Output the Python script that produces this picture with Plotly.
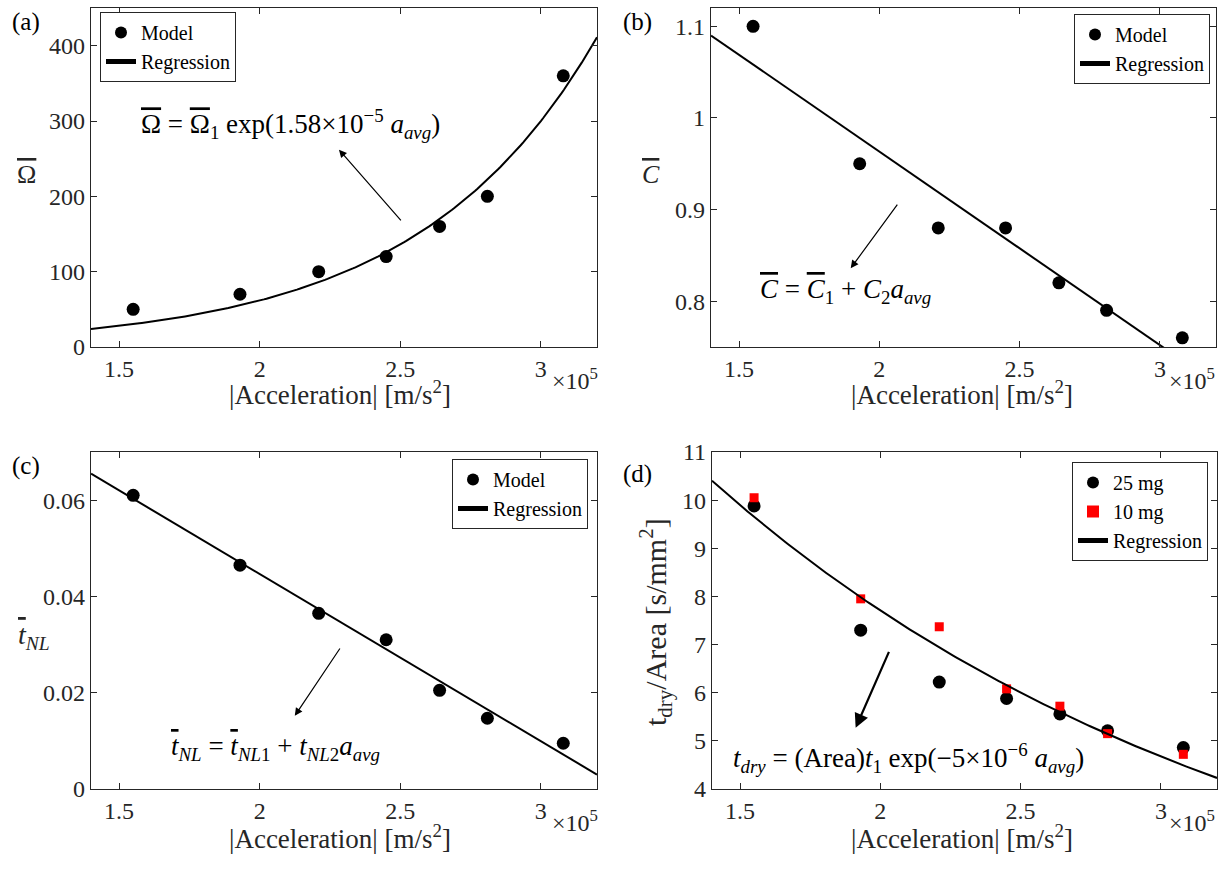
import numpy as np
import plotly.graph_objects as go

# ---------------- data (acceleration in units of 1e5 m/s^2) ----------------
accel = [1.55, 1.93, 2.21, 2.45, 2.64, 2.81, 3.08]

omega_model = [50, 70, 100, 120, 160, 200, 360]
c_model = [1.10, 0.95, 0.88, 0.88, 0.82, 0.79, 0.76]
tnl_model = [0.061, 0.0465, 0.0365, 0.031, 0.0205, 0.0147, 0.0095]
tdry_25mg = [9.88, 7.30, 6.22, 5.88, 5.56, 5.21, 4.86]
tdry_10mg = [10.05, 7.95, 7.37, 6.08, 5.72, 5.15, 4.72]

# regression coefficients
omega1, omega_k = 2.62, 1.58      # Omega = omega1*exp(1.58e-5 a)
c1, c2 = 1.3857, -0.2112          # C = c1 + c2*a
tnl1, tnl2 = 0.1141, -0.03472     # tNL = tnl1 + tnl2*a
t1, tk = 20.95, -0.5              # t = t1*exp(-5e-6 a)

xticks = [1.5, 2, 2.5, 3]
xticktext = ["1.5", "2", "2.5", "3"]
x_range = [1.4, 3.2]

ya_ticks = [0, 100, 200, 300, 400]
yb_ticks = [0.8, 0.9, 1.0, 1.1]
yb_text = ["0.8", "0.9", "1", "1.1"]
yc_ticks = [0, 0.02, 0.04, 0.06]
yc_text = ["0", "0.02", "0.04", "0.06"]
yd_ticks = [4, 5, 6, 7, 8, 9, 10, 11]

# ---------------- figure ----------------
W, H = 1222, 871
FONT = "Liberation Serif, Times New Roman, DejaVu Serif, serif"
AX = "#262626"

xs = np.linspace(x_range[0], x_range[1], 200)

fig = go.Figure()

def px_x(p):
    return p / W

def px_y(p):
    return 1 - p / H

dom_x = {1: [px_x(91), px_x(597)], 2: [px_x(711), px_x(1216)],
         3: [px_x(91), px_x(597)], 4: [px_x(712), px_x(1217)]}
dom_y = {1: [px_y(347), px_y(8)], 2: [px_y(347), px_y(8)],
         3: [px_y(789), px_y(452)], 4: [px_y(789), px_y(452)]}

def ax_names(i):
    return ("x" if i == 1 else f"x{i}", "y" if i == 1 else f"y{i}")

def leg_name(i):
    return "legend" if i == 1 else f"legend{i}"

def add_model(i, y, name="Model", color="black", symbol="circle", size=13):
    xa, ya = ax_names(i)
    fig.add_trace(go.Scatter(x=accel, y=y, mode="markers", name=name,
                             marker=dict(color=color, size=size, symbol=symbol),
                             xaxis=xa, yaxis=ya, legend=leg_name(i)))

def add_line(i, y):
    xa, ya = ax_names(i)
    fig.add_trace(go.Scatter(x=xs, y=y, mode="lines", name="Regression",
                             line=dict(color="black", width=2),
                             xaxis=xa, yaxis=ya, legend=leg_name(i)))

# (a)
add_model(1, omega_model)
add_line(1, omega1 * np.exp(omega_k * xs))
# (b)
add_model(2, c_model)
add_line(2, c1 + c2 * xs)
# (c)
add_model(3, tnl_model)
add_line(3, tnl1 + tnl2 * xs)
# (d)
add_model(4, tdry_25mg, name="25 mg")
add_model(4, tdry_10mg, name="10 mg", color="red", symbol="square", size=9)
add_line(4, t1 * np.exp(tk * xs))

axis_common = dict(showline=True, linecolor=AX, linewidth=1.2, mirror="ticks",
                   ticks="inside", ticklen=6, tickcolor=AX, tickwidth=1.2,
                   showgrid=False, zeroline=False, automargin=False,
                   tickfont=dict(family=FONT, size=24, color=AX))

yinfo = {
    1: dict(range=[0, 450], tickvals=ya_ticks, ticktext=[str(v) for v in ya_ticks]),
    2: dict(range=[0.75, 1.12], tickvals=yb_ticks, ticktext=yb_text),
    3: dict(range=[0, 0.07], tickvals=yc_ticks, ticktext=yc_text),
    4: dict(range=[4, 11], tickvals=yd_ticks, ticktext=[str(v) for v in yd_ticks]),
}

layout = {}
for i in range(1, 5):
    xa = "xaxis" if i == 1 else f"xaxis{i}"
    ya = "yaxis" if i == 1 else f"yaxis{i}"
    xn, yn = ax_names(i)
    layout[xa] = dict(axis_common, domain=dom_x[i], range=x_range, tickvals=xticks,
                      ticktext=xticktext, anchor=yn)
    layout[ya] = dict(axis_common, domain=dom_y[i], anchor=xn, **yinfo[i])

leg_common = dict(bgcolor="white", bordercolor=AX, borderwidth=1,
                  font=dict(family=FONT, size=20, color="black"),
                  tracegroupgap=0, itemsizing="constant", itemwidth=30)
layout["legend"] = dict(leg_common, x=px_x(100), y=px_y(12), xanchor="left", yanchor="top")
layout["legend2"] = dict(leg_common, x=px_x(1210), y=px_y(14), xanchor="right", yanchor="top")
layout["legend3"] = dict(leg_common, x=px_x(588), y=px_y(459), xanchor="right", yanchor="top")
layout["legend4"] = dict(leg_common, x=px_x(1208), y=px_y(462), xanchor="right", yanchor="top")

fig.update_layout(width=W, height=H,
                  margin=dict(l=0, r=0, t=0, b=0, pad=0, autoexpand=False),
                  plot_bgcolor="white", paper_bgcolor="white", showlegend=True,
                  font=dict(family=FONT, color="black"), **layout)

ann = []
def paper_text(text, x, y, size=22, angle=0, color="black"):
    ann.append(dict(text=text, x=px_x(x), y=px_y(y), xref="paper", yref="paper",
                    showarrow=False, font=dict(family=FONT, size=size, color=color),
                    textangle=angle, xanchor="center", yanchor="middle"))

OV = '<span style="text-decoration:overline">'

# panel labels
paper_text("(a)", 26, 22, size=25)
paper_text("(b)", 637, 22, size=25)
paper_text("(c)", 26, 466, size=25)
paper_text("(d)", 637, 474, size=25)

# x axis titles and multipliers
for cx, cy, mx, my in [(340, 393, 575, 379), (962, 393, 1192, 379),
                       (340, 837, 575, 821), (962, 837, 1192, 821)]:
    paper_text("|Acceleration| [m/s<sup>2</sup>]", cx, cy, size=27, color=AX)
    paper_text("×10<sup>5</sup>", mx, my, size=24, color=AX)

# y axis titles
paper_text(OV + "Ω</span>", 26, 174, size=26, color=AX)
paper_text("<i>" + OV + "C</span></i>", 651, 174, size=26, color=AX)
paper_text("<i>" + OV + "t</span><sub>NL</sub></i>", 34, 636, size=28, color=AX)
paper_text("t<sub>dry</sub>/Area [s/mm<sup>2</sup>]", 655, 622, size=30, angle=-90, color=AX)

# equations + arrows (data coordinates)
def eq(i, text, x, y, size=27):
    xn, yn = ax_names(i)
    ann.append(dict(text=text, x=x, y=y, xref=xn, yref=yn, showarrow=False,
                    font=dict(family=FONT, size=size, color="black"),
                    xanchor="center", yanchor="middle"))

def arrow(i, x0, y0, x1, y1, width=1.2):
    xn, yn = ax_names(i)
    ann.append(dict(text="", x=x1, y=y1, ax=x0, ay=y0, xref=xn, yref=yn,
                    axref=xn, ayref=yn, showarrow=True, arrowhead=2,
                    arrowsize=1.3, arrowwidth=width, arrowcolor="black"))

eq(1, OV + "Ω</span> = " + OV + "Ω</span><sub>1</sub> exp(1.58×10<sup>−5</sup> <i>a<sub>avg</sub></i>)", 2.11, 296)
arrow(1, 2.507, 166, 2.282, 262)

eq(2, "<i>" + OV + "C</span></i> = <i>" + OV + "C</span></i><sub>1</sub> + <i>C</i><sub>2</sub><i>a<sub>avg</sub></i>", 1.88, 0.811)
arrow(2, 2.068, 0.907, 1.898, 0.836)

eq(3, "<i>" + OV + "t</span><sub>NL</sub></i> = <i>" + OV + "t</span><sub>NL</sub></i><sub>1</sub> + <i>t<sub>NL</sub></i><sub>2</sub><i>a<sub>avg</sub></i>", 2.056, 0.0085)
arrow(3, 2.289, 0.0295, 2.125, 0.0152)

eq(4, "<i>t<sub>dry</sub></i> = (Area)<i>t</i><sub>1</sub> exp(−5×10<sup>−6</sup> <i>a<sub>avg</sub></i>)", 2.10, 4.64)
arrow(4, 2.033, 6.88, 1.912, 5.27, width=2.2)

fig.update_layout(annotations=ann)

fig.write_html("out.html")
